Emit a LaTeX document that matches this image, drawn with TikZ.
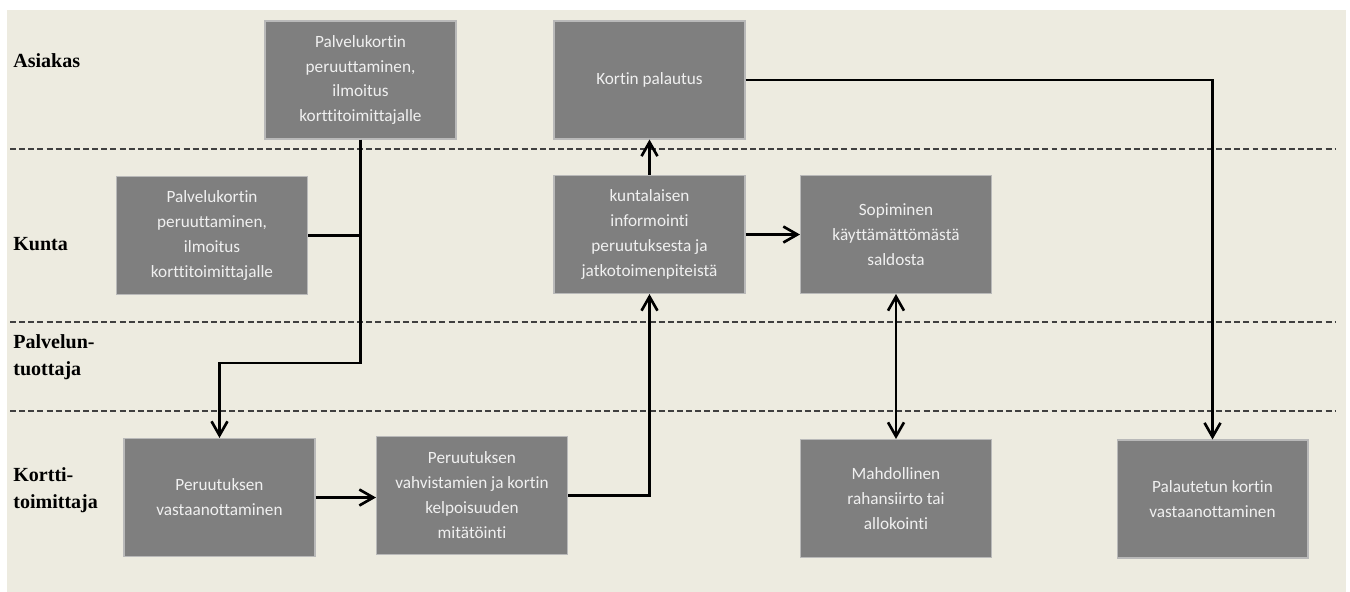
\documentclass[tikz,border=0pt]{standalone}
\usepackage{fontspec}
\setmainfont{Liberation Serif}
\newfontfamily\boxfont[Ligatures=NoCommon]{Carlito}
\usepackage{xcolor}
\usepackage{tikz}
\usetikzlibrary{arrows.meta}
\definecolor{bgbeige}{RGB}{237,235,224}
\definecolor{boxgray}{RGB}{127,127,127}

\begin{document}
\begin{tikzpicture}[x=0.02cm, y=-0.02cm,
        box/.style={rectangle, fill=boxgray, draw=gray!55, line width=0.6pt, minimum width=3.82cm, minimum height=2.36cm, inner sep=2pt, align=center, text=white!94!black, font=\boxfont\fontsize{9.8}{14.2}\selectfont},
        lane/.style={anchor=west, align=left, inner sep=0pt, font=\bfseries\fontsize{11.4}{15.3}\selectfont},
        sep/.style={dash pattern=on 3.4pt off 1.8pt, line width=0.8pt, black!75},
        conn/.style={line width=1.5pt},
        arr/.style={line width=1.5pt, -{Straight Barb[length=2.8mm,width=3.2mm]}},
        arrboth/.style={line width=1.5pt, {Straight Barb[length=2.8mm,width=3.2mm]}-{Straight Barb[length=2.8mm,width=3.2mm]}}]
        \useasboundingbox (0,0) rectangle (1350,592);
        \fill[bgbeige] (7,10) rectangle (1346,592);

        \draw[sep] (10,149) -- (1335,149);
        \draw[sep] (10,322) -- (1335,322);
        \draw[sep] (10,411) -- (1335,411);

        \node[lane] (asiakas) at (13,61) {Asiakas};
        \node[lane] (kunta) at (13,244) {Kunta};
        \node[lane] (tuottaja) at (13,357) {Palvelun-\\tuottaja};
        \node[lane] (toimittaja) at (13,490) {Kortti-\\toimittaja};

        \node[box] (ilm1) at (360.5,80) {Palvelukortin\\peruuttaminen,\\ilmoitus\\korttitoimittajalle};
        \node[box] (palautus) at (649.5,80) {Kortin palautus};
        \node[box] (ilm2) at (212,235.5) {Palvelukortin\\peruuttaminen,\\ilmoitus\\korttitoimittajalle};
        \node[box] (info) at (649.5,234.5) {kuntalaisen\\informointi\\peruutuksesta ja\\jatkotoimenpiteistä};
        \node[box] (saldo) at (896,234.5) {Sopiminen\\käyttämättömästä\\saldosta};
        \node[box] (vast) at (219.5,497.5) {Peruutuksen\\vastaanottaminen};
        \node[box] (mitat) at (472,495.5) {Peruutuksen\\vahvistamien ja kortin\\kelpoisuuden\\mitätöinti};
        \node[box] (siirto) at (896,498.5) {Mahdollinen\\rahansiirto tai\\allokointi};
        \node[box] (palvv) at (1212.5,499) {Palautetun kortin\\vastaanottaminen};

        \coordinate (j1) at (360.5,363);
        \draw[conn] (ilm2.east) -- (ilm2.east -| j1);
        \draw[arr] (ilm1) -- (j1) -| (vast);
        \draw[arr] (vast.east) -- (vast.east -| mitat.west);
        \draw[arr] (mitat.east) -| (info);
        \draw[arr] (info) -- (palautus);
        \draw[arr] (info) -- (saldo);
        \draw[arrboth] (saldo) -- (siirto);
        \draw[arr] (palautus) -| (palvv);
      \end{tikzpicture}
\end{document}
